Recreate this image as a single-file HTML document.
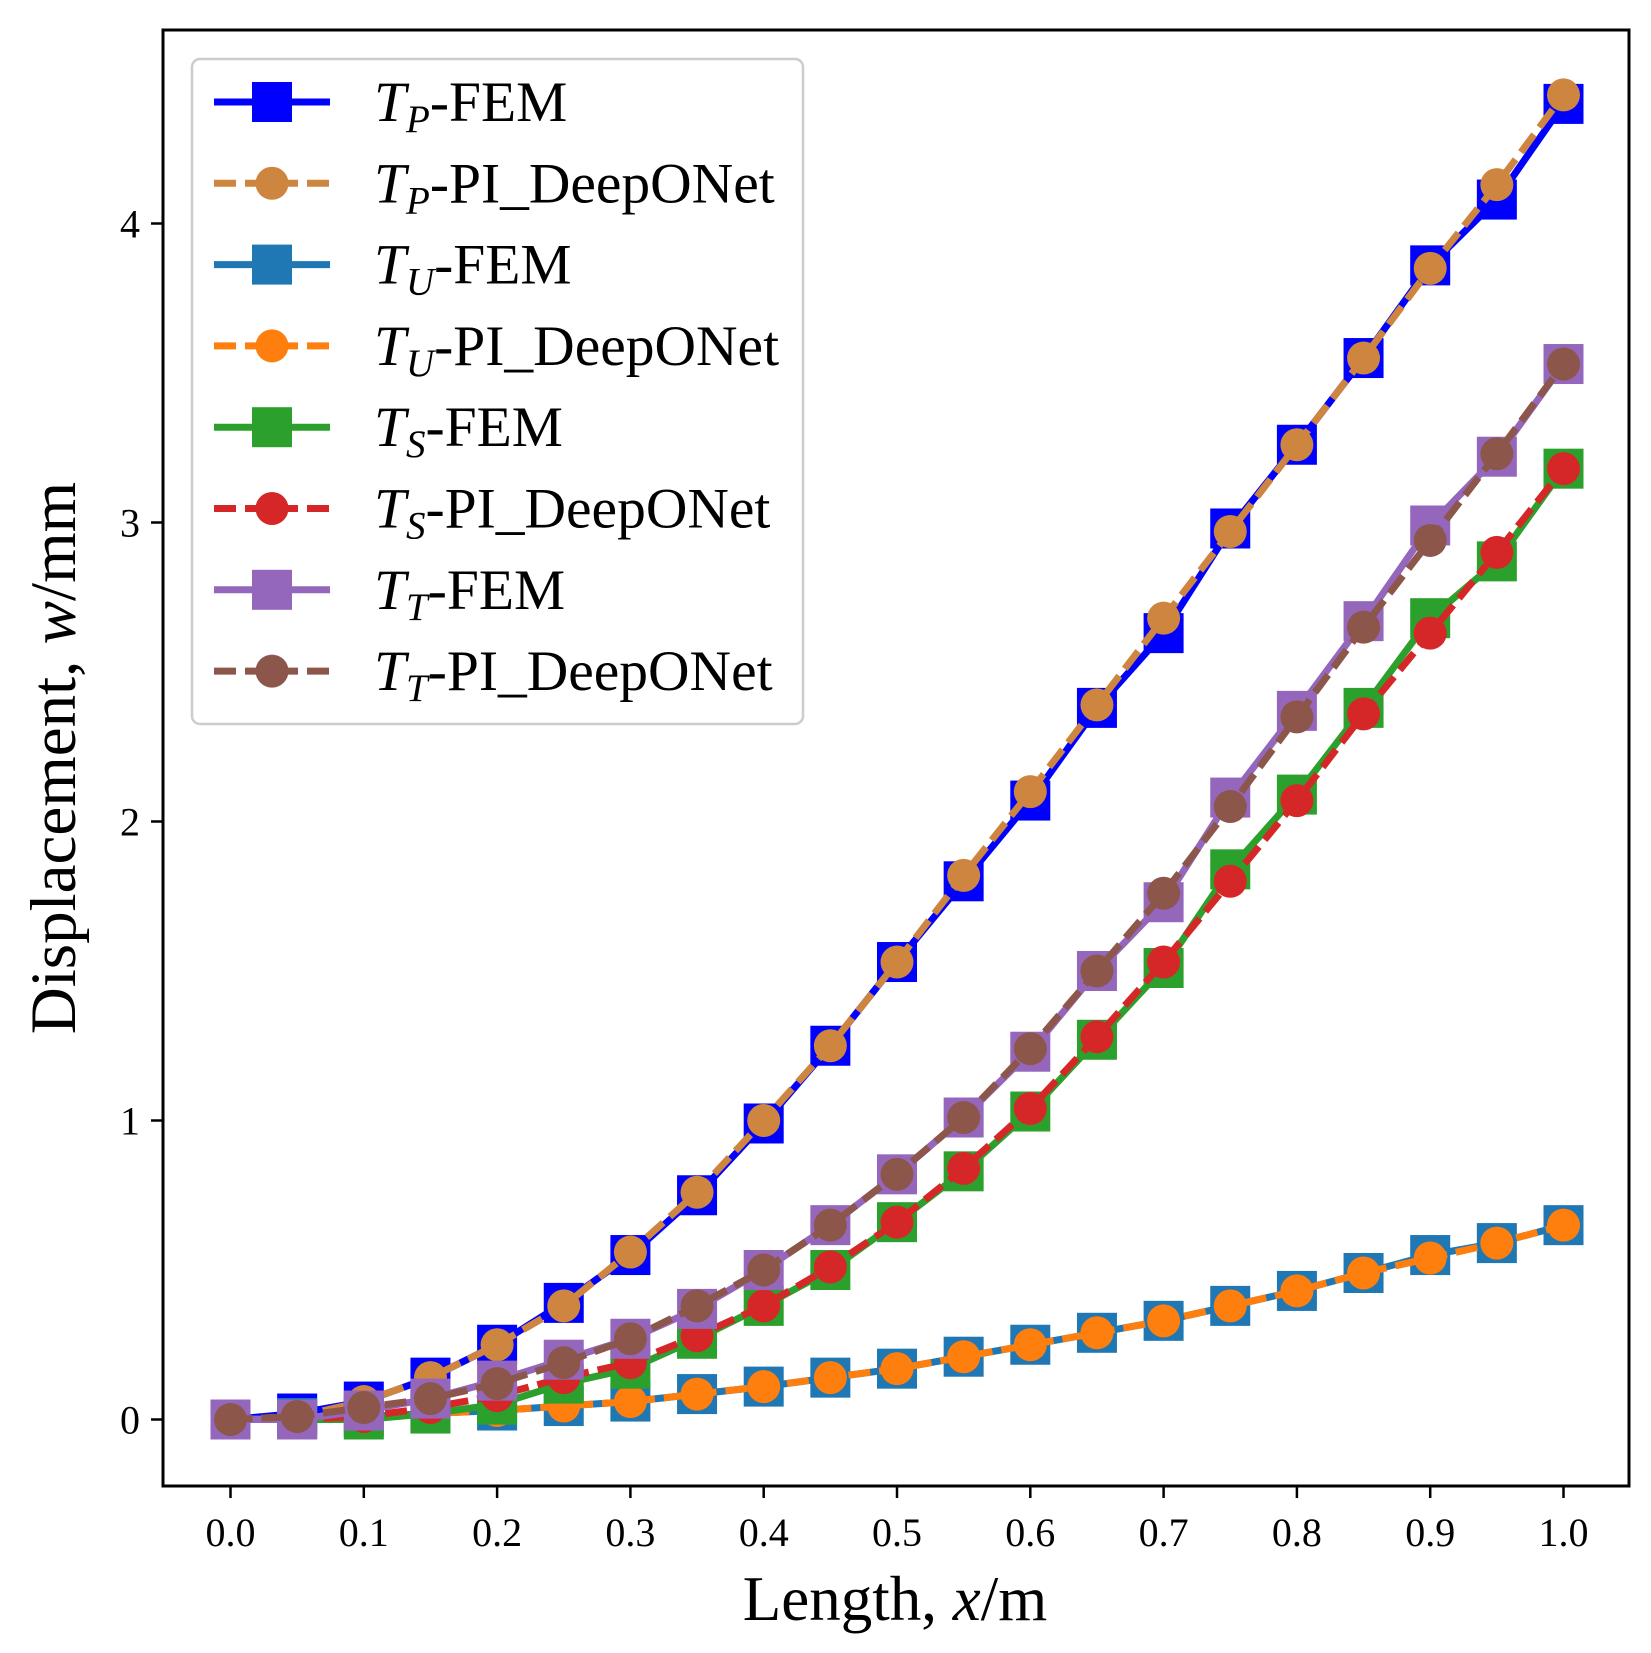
<!DOCTYPE html>
<html><head><meta charset="utf-8"><style>
html,body{margin:0;padding:0;background:#fff;}
svg text{font-family:"Liberation Serif",serif;fill:#000;}
</style></head><body>
<svg id="s" width="1651" height="1648" viewBox="0 0 1651 1648" xmlns="http://www.w3.org/2000/svg">
<rect width="1651" height="1648" fill="#fff"/>
<g id="plot"></g>
<rect x="163" y="30" width="1466" height="1456" fill="none" stroke="#000" stroke-width="3"/>
<g id="ticks" stroke="#000" stroke-width="2.5"></g>
<g id="tl" font-size="40"></g>
<text x="895" y="1620" font-size="63" text-anchor="middle">Length, <tspan font-style="italic">x</tspan>/m</text>
<text transform="translate(75,758) rotate(-90)" font-size="65" text-anchor="middle">Displacement, <tspan font-style="italic">w</tspan>/mm</text>
<g id="leg"></g>
</svg>
<script>
const NS="http://www.w3.org/2000/svg";
function el(t,a,p){const e=document.createElementNS(NS,t);for(const k in a)e.setAttribute(k,a[k]);p.appendChild(e);return e;}
const X=v=>230.5+v*1333, Y=v=>1419.5-v*299;
const ticks=document.getElementById('ticks'), tl=document.getElementById('tl');
for(let i=0;i<=10;i++){const x=X(i/10);el('line',{x1:x,y1:1486,x2:x,y2:1498},ticks);
 const t=el('text',{x:x,y:1546,'text-anchor':'middle'},tl);t.textContent=(i/10).toFixed(1);}
for(let i=0;i<=4;i++){const y=Y(i);el('line',{x1:151,y1:y,x2:163,y2:y},ticks);
 const t=el('text',{x:140,y:y+14,'text-anchor':'end'},tl);t.textContent=i;}
const D=[
['#0000ff',0,[0,0.02,0.06,0.14,0.25,0.39,0.55,0.75,0.99,1.25,1.53,1.8,2.07,2.38,2.63,2.98,3.26,3.55,3.86,4.08,4.40],'P','FEM'],
['#cd853f',1,[0,0.01,0.06,0.14,0.25,0.38,0.56,0.76,1.0,1.25,1.53,1.82,2.1,2.39,2.68,2.97,3.26,3.55,3.85,4.13,4.43],'P','PI_DeepONet'],
['#1f77b4',0,[0,0.005,0.01,0.02,0.03,0.045,0.06,0.085,0.11,0.14,0.17,0.21,0.25,0.29,0.33,0.38,0.43,0.49,0.55,0.59,0.65],'U','FEM'],
['#ff7f0e',1,[0,0.005,0.01,0.02,0.03,0.045,0.06,0.085,0.11,0.14,0.17,0.21,0.25,0.29,0.33,0.38,0.43,0.49,0.54,0.59,0.65],'U','PI_DeepONet'],
['#2ca02c',0,[0,0,0,0.02,0.05,0.12,0.17,0.27,0.38,0.5,0.66,0.83,1.03,1.27,1.51,1.84,2.09,2.38,2.68,2.87,3.18],'S','FEM'],
['#d62728',1,[0,0,0.01,0.04,0.08,0.14,0.19,0.28,0.38,0.51,0.66,0.84,1.04,1.28,1.53,1.8,2.07,2.36,2.63,2.9,3.18],'S','PI_DeepONet'],
['#9467bd',0,[0,0,0.03,0.07,0.13,0.2,0.27,0.37,0.5,0.65,0.82,1.01,1.23,1.5,1.73,2.08,2.37,2.67,2.99,3.22,3.53],'T','FEM'],
['#8c564b',1,[0,0.01,0.04,0.07,0.12,0.19,0.27,0.38,0.5,0.65,0.82,1.01,1.24,1.5,1.76,2.05,2.35,2.65,2.94,3.23,3.53],'T','PI_DeepONet']];
const plot=document.getElementById('plot'), leg=document.getElementById('leg');
function mark(g,c,d,x,y){ if(d) el('circle',{cx:x,cy:y,r:16.5,fill:c},g); else el('rect',{x:x-20,y:y-20,width:40,height:40,fill:c},g);}
D.forEach(([c,d,v])=>{
 const pts=v.map((y,i)=>X(i*0.05).toFixed(1)+','+Y(y).toFixed(1)).join(' ');
 const a={points:pts,fill:'none',stroke:c,'stroke-width':7,'stroke-linejoin':'round'};
 if(d)a['stroke-dasharray']='22,9';
 el('polyline',a,plot);
 v.forEach((y,i)=>mark(plot,c,d,X(i*0.05),Y(y)));
});
el('rect',{x:192,y:59,width:611,height:665,rx:8,fill:'#fff','fill-opacity':0.85,stroke:'#ccc','stroke-width':2.5},leg);
D.forEach(([c,d,v,s,lab],i)=>{
 const y=102+i*81.3;
 const a={x1:214,y1:y,x2:330,y2:y,stroke:c,'stroke-width':7};
 if(d)a['stroke-dasharray']='22,9';
 el('line',a,leg); mark(leg,c,d,272,y);
 const t=el('text',{x:374,y:y+19,'font-size':57.5},leg);
 const t1=el('tspan',{'font-style':'italic'},t);t1.textContent='T';
 const t2=el('tspan',{'font-style':'italic','font-size':39,dy:11},t);t2.textContent=s;
 const t3=el('tspan',{dy:-11},t);t3.textContent='-'+lab;
});
</script>
</body></html>
